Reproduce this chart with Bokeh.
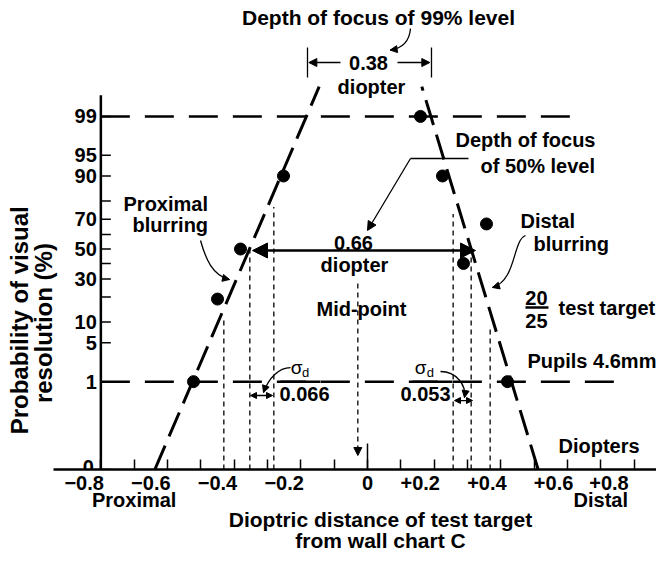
import math
from statistics import NormalDist
from bokeh.plotting import figure
from bokeh.models import Range1d, FixedTicker, Arrow, NormalHead, LinearAxis
from bokeh.core.properties import value
from bokeh.embed import file_html
from bokeh.resources import INLINE

FONT = "Liberation Sans"

# ---------------- data ----------------
y_tick_probs = [1, 5, 10, 20, 30, 40, 50, 60, 70, 80, 90, 95, 99]
y_tick_labels = ["1", "5", "10", "", "30", "", "50", "", "70", "", "90", "95", "99"]
x_major_ticks = [-0.8, -0.6, -0.4, -0.2, 0.0, 0.2, 0.4, 0.6, 0.8]
x_tick_labels = ["−0.8", "−0.6", "−0.4", "−0.2", "0", "+0.2", "+0.4", "+0.6", "+0.8"]
x_minor_ticks = [-0.7, -0.5, -0.3, -0.1, 0.1, 0.3, 0.5, 0.7]
x_end_names = ["Proximal", "Distal"]
x_end_pos = [-0.7, 0.7]
x_title = "Dioptric distance of test target\nfrom wall chart C"
x_title_pos = 0.039

proximal_x = [-0.522, -0.450, -0.381, -0.252]
proximal_p = [1, 19, 50, 90]
distal_x = [0.159, 0.225, 0.357, 0.288, 0.420]
distal_p = [99, 90, 67, 40, 1]

proximal_fit_x = [-0.638, -0.145]
proximal_fit_p = [0, 99.78]
distal_fit_x = [0.512, 0.163]
distal_fit_p = [0, 99.78]

level_p = [99, 1]
level_x_end = [0.624, 0.759]

guide_x = [-0.431, -0.353, -0.281, 0.257, 0.311, 0.368]
guide_top_p = [11, 50, 77, 73, 50, 9]

midpoint_x = -0.029

# ------------- probability (probit) axis -------------
ND = NormalDist()
Z0 = -3.868   # where "0" sits on the probability axis (the baseline)
Z_TOP = 4.360
X_AXIS_X = -0.8


def pz(pct):
    return Z0 if pct <= 0 else ND.inv_cdf(pct / 100.0)


def tick_text(lbl):
    # the printed labels sit a little to the left of their ticks
    if lbl.startswith("−"):
        return lbl + "\u2007\u2007\u2007"
    if lbl.startswith("+"):
        return lbl + "\u2007\u2007\u2008"
    return lbl


p = figure(frame_width=656, frame_height=469,
           x_range=Range1d(-1.1011, 0.8671), y_range=Range1d(Z0, Z_TOP),
           output_backend="svg", toolbar_location=None, title=None,
           min_border_left=0, min_border_right=0, min_border_top=0,
           min_border_bottom=0, background_fill_color="white",
           border_fill_color="white")
p.outline_line_color = None
p.xgrid.visible = False
p.ygrid.visible = False
p.yaxis.visible = False

# x axis
xa = p.xaxis[0]
xa.ticker = FixedTicker(ticks=x_major_ticks, minor_ticks=x_minor_ticks)
xa.major_label_overrides = {t: tick_text(l) for t, l in zip(x_major_ticks, x_tick_labels)}
xa.bounds = (-0.942, 0.8671)
xa.axis_line_width = 2.5
xa.major_tick_in = 10
xa.major_tick_out = 0
xa.minor_tick_in = 10
xa.minor_tick_out = 0
xa.major_tick_line_width = 1.5
xa.minor_tick_line_width = 1.5
xa.major_label_standoff = 2
xa.major_label_text_font = FONT
xa.major_label_text_font_style = "bold"
xa.major_label_text_font_size = "20px"
xa.major_label_text_color = "black"


def label_row(ticks, labels, standoff, size, line_height=1.2):
    return LinearAxis(ticker=FixedTicker(ticks=ticks, minor_ticks=[]),
                      major_label_overrides={t: l for t, l in zip(ticks, labels)},
                      axis_line_color=None, major_tick_line_color=None,
                      minor_tick_line_color=None, major_tick_in=0, major_tick_out=0,
                      minor_tick_in=0, minor_tick_out=0, major_label_standoff=standoff,
                      major_label_text_font=FONT, major_label_text_font_style="bold",
                      major_label_text_font_size=size, major_label_text_color="black",
                      major_label_text_line_height=line_height)


# rows under the axis: end names, then the axis title
p.add_layout(label_row(x_end_pos, x_end_names, -8, "20px"), "below")
p.add_layout(label_row([x_title_pos], [x_title], -6, "21px", 0.92), "below")

# probability axis drawn at x = -0.8
y_ticks = [Z0] + [pz(v) for v in y_tick_probs]
p.segment(x0=[X_AXIS_X], y0=[Z0], x1=[X_AXIS_X], y1=[pz(99.65)],
          line_color="black", line_width=2.5)
p.segment(x0=[X_AXIS_X] * len(y_ticks), y0=y_ticks,
          x1=[X_AXIS_X + 0.03] * len(y_ticks), y1=y_ticks,
          line_color="black", line_width=1.5)
ytxt = dict(text_align="right", text_baseline="middle", text_font=value(FONT),
            text_font_style="bold", text_font_size="20px", text_color="black")
p.text(x=[X_AXIS_X] * len(y_tick_probs), y=y_ticks[1:], text=y_tick_labels,
       x_offset=-4, **ytxt)
p.text(x=[X_AXIS_X], y=[Z0], text=["0"], x_offset=-7, y_offset=-3, **ytxt)
p.text(x=[-1.044, -0.972], y=[-1.25, -1.30],
       text=["Probability of visual", "resolution (%)"], angle=math.pi / 2,
       text_align="center", text_baseline="middle", text_font=value(FONT),
       text_font_style="bold", text_font_size="24px", text_color="black")

# ------------- marks -------------
# 1% and 99% levels
p.multi_line(xs=[[X_AXIS_X, e] for e in level_x_end],
             ys=[[pz(v), pz(v)] for v in level_p],
             line_color="black", line_width=2.5, line_dash="29 15")

# fitted lines
p.line(proximal_fit_x, [pz(v) for v in proximal_fit_p], line_color="black",
       line_width=3, line_dash="26 10")
p.line(distal_fit_x, [pz(v) for v in distal_fit_p], line_color="black",
       line_width=3, line_dash="26 10")

# guide verticals
p.segment(x0=guide_x, y0=[Z0] * len(guide_x), x1=guide_x,
          y1=[pz(v) for v in guide_top_p], line_color="black",
          line_width=1.3, line_dash="5 4")

# tick at zero
p.segment(x0=[0], y0=[Z0], x1=[0], y1=[-3.412], line_color="black", line_width=1.5)

# data points
p.scatter(proximal_x, [pz(v) for v in proximal_p], size=12, color="black")
p.scatter(distal_x, [pz(v) for v in distal_p], size=12, color="black")

# mid-point arrow
p.add_layout(Arrow(end=NormalHead(size=8, fill_color="black", line_color="black"),
                   x_start=midpoint_x, y_start=-0.605, x_end=midpoint_x, y_end=-3.623,
                   line_width=1.3, line_dash="5 4", line_color="black"))

# 0.66 diopter double arrow
p.add_layout(Arrow(start=NormalHead(size=15, fill_color="black", line_color="black"),
                   end=NormalHead(size=15, fill_color="black", line_color="black"),
                   x_start=-0.345, y_start=-0.026, x_end=0.324, y_end=-0.026,
                   line_width=2.5, line_color="black"))

# 0.38 bracket
p.segment(x0=[-0.180, 0.192], y0=[3.535, 3.535], x1=[-0.180, 0.192], y1=[3.009, 3.009],
          line_color="black", line_width=1.3)
for xs, xe in [(-0.081, -0.176), (0.090, 0.187)]:
    p.add_layout(Arrow(end=NormalHead(size=8, fill_color="black", line_color="black"),
                       x_start=xs, y_start=3.272, x_end=xe, y_end=3.272,
                       line_width=1.3, line_color="black"))

# leader for 50% label
p.line([0.303, 0.129], [1.588, 1.588], line_color="black", line_width=1.3)
p.add_layout(Arrow(end=NormalHead(size=9, fill_color="black", line_color="black"),
                   x_start=0.129, y_start=1.588, x_end=0.0, y_end=0.325,
                   line_width=1.3, line_color="black"))

# curved leaders
curves = [
    # (x0, y0, cx0, cy0, cx1, cy1, x1, y1)
    (0.129, 3.868, 0.126, 3.66, 0.105, 3.52, 0.068, 3.49),
    (-0.501, 0.149, -0.486, -0.167, -0.465, -0.465, -0.414, -0.535),
    (0.474, 0.237, 0.435, 0.149, 0.447, -0.553, 0.375, -0.675),
    (-0.231, -2.079, -0.267, -2.079, -0.297, -2.272, -0.312, -2.518),
    (0.219, -2.149, 0.267, -2.149, 0.297, -2.395, 0.291, -2.605),
]
p.bezier(x0=[c[0] for c in curves], y0=[c[1] for c in curves],
         cx0=[c[2] for c in curves], cy0=[c[3] for c in curves],
         cx1=[c[4] for c in curves], cy1=[c[5] for c in curves],
         x1=[c[6] for c in curves], y1=[c[7] for c in curves],
         line_color="black", line_width=1.3)
for c in curves:
    ex, ey, kx, ky = c[6], c[7], c[4], c[5]
    p.add_layout(Arrow(end=NormalHead(size=7, fill_color="black", line_color="black"),
                       x_start=ex - 0.25 * (ex - kx), y_start=ey - 0.25 * (ey - ky),
                       x_end=ex, y_end=ey, line_width=1.3, line_color="black"))

# sigma double arrows
for xs, xe, yy in [(-0.351, -0.285, -2.570), (0.261, 0.315, -2.658)]:
    p.add_layout(Arrow(start=NormalHead(size=6, fill_color="black", line_color="black"),
                       end=NormalHead(size=6, fill_color="black", line_color="black"),
                       x_start=xs, y_start=yy, x_end=xe, y_end=yy,
                       line_width=1.3, line_color="black"))

# fraction bars
p.segment(x0=[-0.261, 0.135, 0.474], y0=[pz(1), pz(1), -1.026],
          x1=[-0.141, 0.255, 0.543], y1=[pz(1), pz(1), -1.026],
          line_color="black", line_width=2.5)

# ------------- texts -------------
bold = dict(text_font=value(FONT), text_font_style="bold", text_color="black",
            text_baseline="middle")

p.text(x=[0.033], y=[4.061], text=["Depth of focus of 99% level"],
       text_align="center", text_font_size="21px", **bold)

p.text(x=[0.003, 0.012, -0.042, -0.039, -0.018, -0.189, 0.174, 0.507, 0.507],
       y=[3.272, 2.851, 0.114, -0.289, -1.044, -2.535, -2.535, -0.868, -1.254],
       text=["0.38", "diopter", "0.66", "diopter",
             "Mid-point", "0.066", "0.053", "20", "25"],
       text_align="center", text_font_size="20px", **bold)

p.text(x=[0.264, 0.339, -0.732, -0.705, 0.459, 0.498, 0.573, 0.480, 0.573],
       y=[1.904, 1.465, 0.798, 0.43, 0.5, 0.088, -1.026, -1.956, -3.447],
       text=["Depth of focus", "of 50% level", "Proximal", "blurring", "Distal",
             "blurring", "test target", "Pupils 4.6mm", "Diopters"],
       text_align="left", text_font_size="20px", **bold)

p.text(x=[-0.213, 0.159], y=[-2.079, -2.079], text=["σ", "σ"], text_align="center",
       text_baseline="middle", text_font=value(FONT), text_font_size="19px",
       text_color="black")
p.text(x=[-0.186, 0.189], y=[-2.167, -2.167], text=["d", "d"], text_align="center",
       text_baseline="middle", text_font=value(FONT), text_font_size="13px",
       text_color="black")

open("out.html", "w").write(file_html(p, INLINE))
